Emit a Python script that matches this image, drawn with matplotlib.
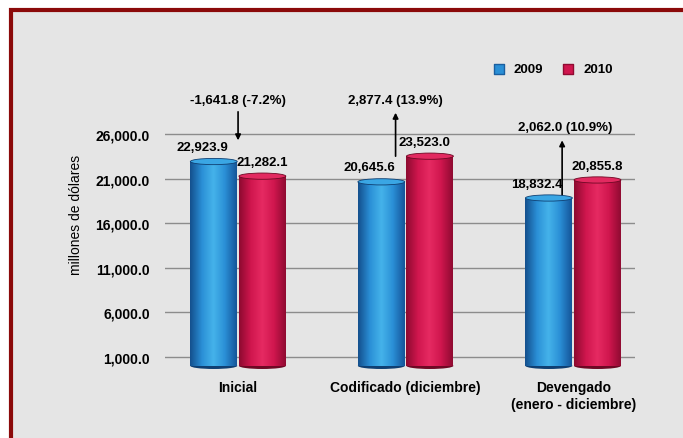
import numpy as np
import matplotlib
matplotlib.use("Agg")
import matplotlib.pyplot as plt
from matplotlib import font_manager
from matplotlib.patches import Rectangle, Ellipse
from matplotlib.colors import LinearSegmentedColormap

categories = ["Inicial", "Codificado (diciembre)", "Devengado\n(enero - diciembre)"]
series_names = ["2009", "2010"]
values_2009 = [22923.9, 20645.6, 18832.4]
values_2010 = [21282.1, 23523.0, 20855.8]
changes = ["-1,641.8 (-7.2%)", "2,877.4 (13.9%)", "2,062.0 (10.9%)"]
yticks = [1000, 6000, 11000, 16000, 21000, 26000]

names = {f.name for f in font_manager.fontManager.ttflist}
fam = "Liberation Sans Narrow" if "Liberation Sans Narrow" in names else "Liberation Sans"
plt.rcParams["font.family"] = [fam, "DejaVu Sans"]
plt.rcParams["font.weight"] = "bold"

fig = plt.figure(figsize=(6.83, 4.39), dpi=100)
fig.patch.set_facecolor("white")
frame = Rectangle((11/683, -0.05), 1.0, 1 - 11/439 + 0.05, transform=fig.transFigure,
                  facecolor="#e5e5e5", edgecolor="#8b0a0a", lw=3, zorder=-5)
fig.patches.append(frame)

ax = fig.add_axes([0.2416, 0.144, 0.93 - 0.2416, 0.731])
ax.set_zorder(1)
ax.set_facecolor("none")
for s in ax.spines.values():
    s.set_visible(False)
ax.set_yticks(yticks)
ax.set_yticklabels([f"{v:,.1f}" for v in yticks], fontsize=10)
ax.tick_params(axis="y", length=0, pad=11)
ax.tick_params(axis="x", length=0, pad=4)
ax.set_xticks(range(3))
ax.set_xticklabels(categories, fontsize=10, linespacing=1.2)
ax.yaxis.grid(True, color="#8c8c8c", lw=1.0)
ax.set_axisbelow(True)
ax.set_ylabel("millones de dólares", fontsize=10, fontweight="normal", labelpad=9)

x = np.arange(3)
w = 0.28
off = 0.145
blue_cmap = LinearSegmentedColormap.from_list("b", ["#14508e", "#2a8fd6", "#45b3ea", "#2a8fd6", "#15569a"])
red_cmap = LinearSegmentedColormap.from_list("r", ["#8e0a30", "#d0164e", "#e62a62", "#d0164e", "#900b32"])
grad = np.linspace(0, 1, 64).reshape(1, -1)
cap_h = 700

bars1 = ax.bar(x - off, values_2009, w, color="#2a8fd6", zorder=2)
bars2 = ax.bar(x + off, values_2010, w, color="#d0164e", zorder=2)
for bars, cm, edge, top in ((bars1, blue_cmap, "#0f3f72", "#3aa6e4"),
                            (bars2, red_cmap, "#6e0824", "#e22a60")):
    for b in bars:
        x0, y0 = b.get_x(), b.get_y()
        bw, bh = b.get_width(), b.get_height()
        bottom = Ellipse((x0 + bw / 2, y0), bw, cap_h, facecolor=edge, zorder=2)
        ax.add_patch(bottom)
        im = ax.imshow(grad, cmap=cm, aspect="auto", zorder=3,
                       extent=(x0, x0 + bw, y0, y0 + bh))
        im.set_clip_path(b)
        ax.add_patch(Ellipse((x0 + bw / 2, y0 + bh), bw, cap_h, facecolor=top,
                             edgecolor=edge, lw=0.6, zorder=4))
ax.set_xlim(-0.436, 2.37)
ax.set_ylim(-1000, 35000)

for b, v in zip(bars1, values_2009):
    ax.annotate(f"{v:,.1f}", (b.get_x() + b.get_width() / 2 - 0.07, v), xytext=(0, 6),
                textcoords="offset points", ha="center", va="bottom", fontsize=9.5)
for b, v, d in zip(bars2, values_2010, [0.0, -0.03, 0.0]):
    ax.annotate(f"{v:,.1f}", (b.get_x() + b.get_width() / 2 + d, v), xytext=(0, 6),
                textcoords="offset points", ha="center", va="bottom", fontsize=9.5)

# change annotations
arr = dict(arrowstyle="-|>", color="black", lw=1.2, mutation_scale=8, shrinkA=0, shrinkB=0)
# Inicial: down arrow
ax.annotate("", xy=(x[0], 25300), xytext=(x[0], 28500), arrowprops=arr)
ax.text(x[0], 29100, changes[0], ha="center", va="bottom", fontsize=9.5)
# Codificado: up arrow
ax.annotate("", xy=(x[1] - 0.06, 28400), xytext=(x[1] - 0.06, values_2010[1]), arrowprops=arr)
ax.text(x[1] - 0.06, 29100, changes[1], ha="center", va="bottom", fontsize=9.5)
# Devengado: up arrow
ax.annotate("", xy=(x[2] - 0.066, 25300), xytext=(x[2] - 0.066, 18800), arrowprops=arr)
ax.text(x[2] - 0.05, 26100, changes[2], ha="center", va="bottom", fontsize=9.5)

# legend
ax.scatter([1.558], [33300], marker="s", s=55, color="#2a8fd6", edgecolor="#1a5fa0", clip_on=False)
ax.text(1.645, 33300, series_names[0], va="center", ha="left", fontsize=9.5)
ax.scatter([1.97], [33300], marker="s", s=55, color="#d0164e", edgecolor="#900b32", clip_on=False)
ax.text(2.06, 33300, series_names[1], va="center", ha="left", fontsize=9.5)

fig.savefig("out.png", dpi=100)
